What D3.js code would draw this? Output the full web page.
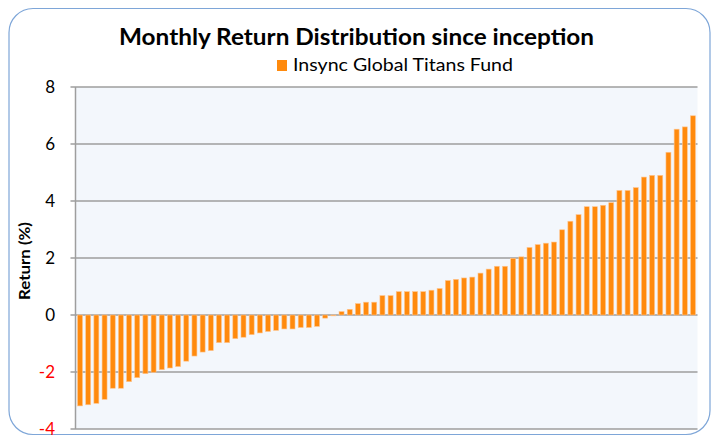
<!DOCTYPE html>
<html>
<head>
<meta charset="utf-8">
<script src="https://cdn.jsdelivr.net/npm/d3@7"></script>
<style>
  html, body { margin: 0; padding: 0; background: #ffffff; }
  svg { display: block; }
  text { font-family: Lato, "Open Sans", "DejaVu Sans", sans-serif; }
</style>
</head>
<body>
<svg id="chart" width="719" height="436"></svg>
<script>
// ---- data ----
const titleText = "Monthly Return Distribution since inception";
const seriesName = "Insync Global Titans Fund";
const yAxisTitle = "Return (%)";
const yTicks = [-4, -2, 0, 2, 4, 6, 8];
const categories = d3.range(1, 77).map(i => "M" + i);
const returns = [
  -3.19, -3.15, -3.10, -2.96, -2.57, -2.57, -2.34, -2.20, -2.06, -2.01,
  -1.92, -1.86, -1.81, -1.62, -1.44, -1.30, -1.25, -0.97, -0.97, -0.83,
  -0.78, -0.69, -0.63, -0.58, -0.54, -0.49, -0.49, -0.44, -0.44, -0.40,
  -0.11, -0.03, 0.12, 0.20, 0.40, 0.45, 0.45, 0.68, 0.68, 0.82,
  0.82, 0.82, 0.82, 0.87, 0.93, 1.21, 1.25, 1.30, 1.33, 1.47,
  1.61, 1.71, 1.71, 1.99, 2.04, 2.37, 2.47, 2.52, 2.56, 2.99,
  3.29, 3.52, 3.80, 3.80, 3.85, 3.94, 4.37, 4.37, 4.47, 4.84,
  4.90, 4.90, 5.71, 6.52, 6.60, 6.99
];

// ---- layout ----
const svg = d3.select("#chart");
const plot = { left: 75.5, right: 697.5, top: 87, bottom: 429 };

// outer rounded frame
svg.append("rect")
  .attr("x", 9).attr("y", 8.5)
  .attr("width", 701).attr("height", 426)
  .attr("rx", 24).attr("ry", 24)
  .attr("fill", "#ffffff")
  .attr("stroke", "#7ea6d8")
  .attr("stroke-width", 1.2);

const x = d3.scaleBand()
  .domain(categories)
  .range([plot.left, plot.right])
  .paddingInner(0.39)
  .paddingOuter(0.25);

const y = d3.scaleLinear()
  .domain([-4, 8])
  .range([plot.bottom, plot.top]);

// plot background
svg.append("rect")
  .attr("x", plot.left).attr("y", plot.top)
  .attr("width", plot.right - plot.left)
  .attr("height", plot.bottom - plot.top)
  .attr("fill", "#f3f7fc");

// gridlines
svg.append("g")
  .selectAll("line")
  .data(yTicks)
  .join("line")
  .attr("x1", plot.left - 5).attr("x2", plot.right)
  .attr("y1", d => y(d)).attr("y2", d => y(d))
  .attr("stroke", "#9e9e9e")
  .attr("stroke-width", 1.5);

// y axis line
svg.append("line")
  .attr("x1", plot.left).attr("x2", plot.left)
  .attr("y1", plot.top).attr("y2", plot.bottom)
  .attr("stroke", "#9e9e9e").attr("stroke-width", 1.5);

// tick labels
svg.append("g")
  .selectAll("text")
  .data(yTicks)
  .join("text")
  .attr("x", 55)
  .attr("y", d => y(d))
  .attr("dy", "0.35em")
  .attr("text-anchor", "end")
  .attr("font-size", 17)
  .attr("fill", d => d < 0 ? "#ff0000" : "#000000")
  .text(d => d);

// bars
svg.append("g")
  .selectAll("rect")
  .data(returns)
  .join("rect")
  .attr("x", (d, i) => x(categories[i]))
  .attr("width", x.bandwidth())
  .attr("y", d => y(Math.max(0, d)))
  .attr("height", d => Math.abs(y(d) - y(0)))
  .attr("fill", "#ff8a0d")
  .attr("stroke", "#ffc58f")
  .attr("stroke-width", 0.6);

// title
svg.append("text")
  .attr("x", 356.5).attr("y", 45)
  .attr("text-anchor", "middle")
  .attr("font-size", 23)
  .attr("font-weight", "bold")
  .attr("fill", "#000")
  .attr("textLength", 475)
  .attr("lengthAdjust", "spacingAndGlyphs")
  .text(titleText);

// legend
svg.append("rect")
  .attr("x", 277).attr("y", 60)
  .attr("width", 10).attr("height", 11)
  .attr("fill", "#ff8a0d");
svg.append("text")
  .attr("x", 293).attr("y", 71)
  .attr("font-size", 18)
  .attr("fill", "#000")
  .attr("textLength", 220)
  .attr("lengthAdjust", "spacingAndGlyphs")
  .text(seriesName);

// y axis title
svg.append("text")
  .attr("transform", "translate(30,261) rotate(-90)")
  .attr("text-anchor", "middle")
  .attr("font-size", 16)
  .attr("font-weight", "bold")
  .attr("fill", "#000")
  .attr("textLength", 78)
  .attr("lengthAdjust", "spacingAndGlyphs")
  .text(yAxisTitle);
</script>
</body>
</html>
